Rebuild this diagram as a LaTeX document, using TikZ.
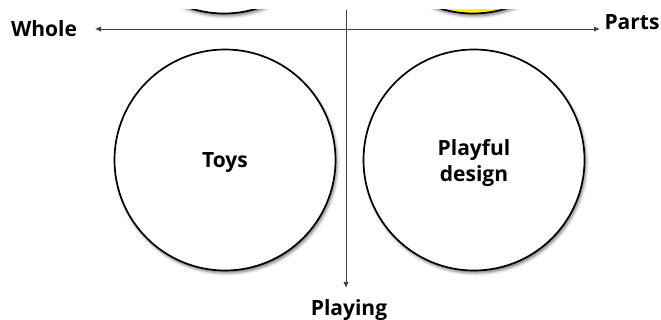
\documentclass[tikz,border=0pt]{standalone}
\usepackage{fontspec}
\setmainfont{Open Sans}
\usetikzlibrary{arrows.meta, shadows.blur}

\begin{document}
\begin{tikzpicture}[
  x=1pt, y=-1pt,
  >={Latex[length=6pt, width=5.5pt]},
  quad/.style={circle, draw, line width=1.7pt, fill=white, minimum size=221pt, inner sep=0pt,
    blur shadow={shadow xshift=1.5pt, shadow yshift=-2.5pt, shadow blur radius=3pt, shadow opacity=55}},
  word/.style={font=\bfseries\fontsize{21}{26}\selectfont, align=center},
  axis/.style={draw=black!75, line width=0.9pt}
]
\useasboundingbox (0,0) rectangle (661,320);

% the two circles above, cut off by the top edge
\begin{scope}
  \clip (0,9.5) rectangle (661,320);
  \node[quad] (whl) at (224,-97) {};
  \node[quad, fill=yellow] (prt) at (473,-97) {};
\end{scope}

\node[quad, word, text depth=0pt] (toys) at (225,160) {Toys};
\node[quad, word, text depth=0pt] (play) at (474,160) {Playful\\design};

\coordinate (wtip) at (95,29);
\coordinate (ptip) at (600,29);
\coordinate (vtop) at (346,10);
\coordinate (vtip) at (346,288);

\draw[axis, <->] (wtip) -- (ptip);
\draw[axis, ->] (vtop) -- (vtip);

\node[word, anchor=base] (whole) at (44,37) {Whole};
\node[word, anchor=base] (parts) at (632,30) {Parts};
\node[word, anchor=base] (playing) at (349,315) {Playing};
\end{tikzpicture}
\end{document}
